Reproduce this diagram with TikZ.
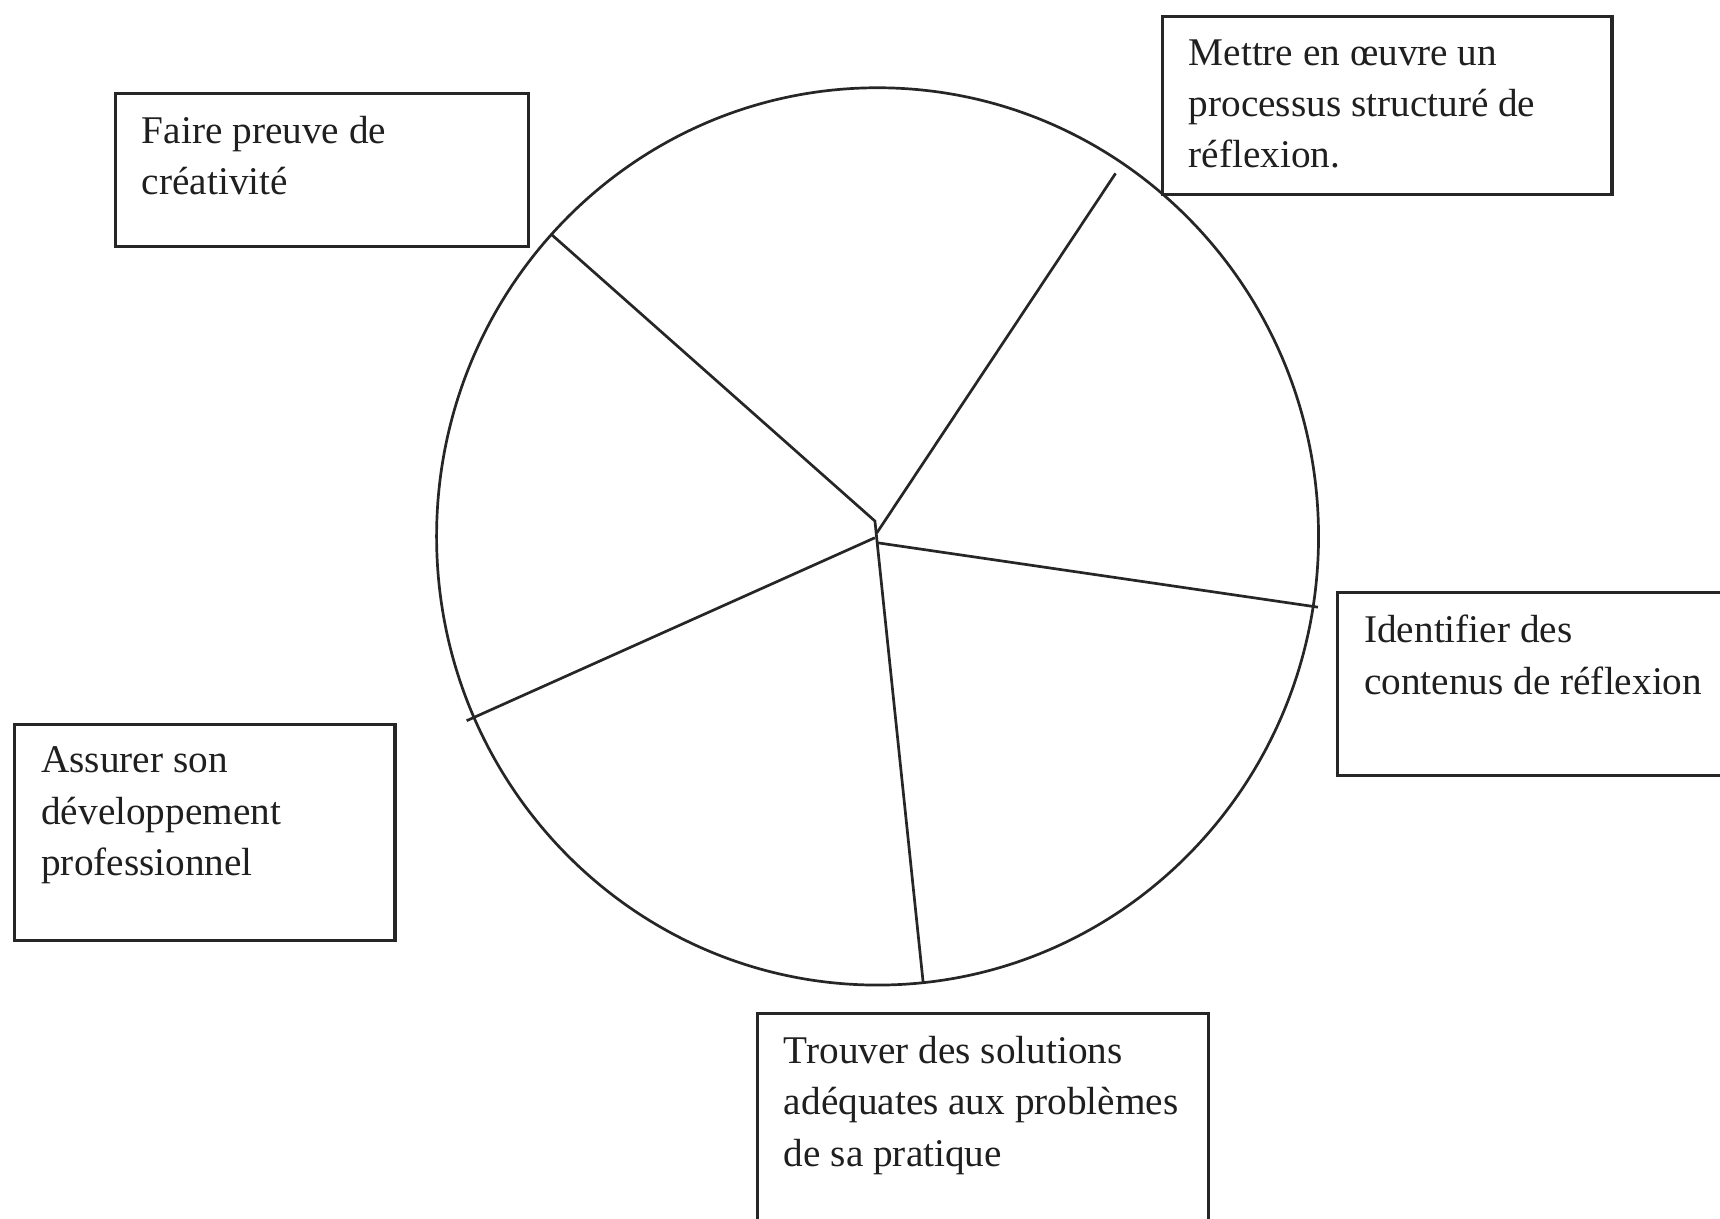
\documentclass[tikz,border=0pt]{standalone}
\usepackage{fontspec}
\setmainfont{Liberation Serif}

\begin{document}
\begin{tikzpicture}[x=1cm, y=-1cm,
    trait/.style={draw=black!85, line width=0.7pt},
    cadre/.style={draw=black!85, line width=0.85pt, anchor=north west, inner sep=0pt},
    texte/.style={anchor=north west, inner sep=0pt, align=left, text=black!88,
        font=\fontsize{10.18}{13.32}\selectfont}]
    % Page frame
    \useasboundingbox (0,0) rectangle (15.68,11.11);
    \clip (0,0) rectangle (15.68,11.11);

    % Pie
    \draw[trait] (8.00,4.89) ellipse [x radius=4.02, y radius=4.09];
    \coordinate (hubA) at (7.976,4.750);
    \coordinate (hubB) at (7.992,4.860);
    \coordinate (hubC) at (7.976,4.902);
    \coordinate (hubD) at (7.992,4.947);
    \coordinate (rimNO) at (5.03,2.14);
    \coordinate (rimNE) at (10.17,1.58);
    \coordinate (rimE) at (12.015,5.535);
    \coordinate (rimS) at (8.416,8.96);
    \coordinate (rimSO) at (4.254,6.57);
    \draw[trait] (rimNO) -- (hubA) -- (rimS);
    \draw[trait] (rimNE) -- (hubB);
    \draw[trait] (rimSO) -- (hubC);
    \draw[trait] (hubD) -- (rimE);

    % Boxes
    \node[cadre, minimum width=3.767cm, minimum height=1.398cm] (creativite) at (1.037,0.836) {};
    \node[texte] (creativiteTxt) at (1.287,1.051) {Faire preuve de\\créativité};

    \node[cadre, minimum width=4.10cm, minimum height=1.623cm] (processus) at (10.58,0.137) {};
    \node[texte] (processusTxt) at (10.83,0.352) {Mettre en œuvre un\\processus structuré de\\réflexion.};

    \node[cadre, minimum width=3.70cm, minimum height=1.672cm] (contenus) at (12.18,5.385) {};
    \node[texte] (contenusTxt) at (12.43,5.600) {Identifier des\\contenus de réflexion};

    \node[cadre, minimum width=3.466cm, minimum height=1.972cm] (developpement) at (0.12,6.588) {};
    \node[texte] (developpementTxt) at (0.37,6.803) {Assurer son\\développement\\professionnel};

    \node[cadre, minimum width=4.11cm, minimum height=2.20cm] (solutions) at (6.89,9.225) {};
    \node[texte] (solutionsTxt) at (7.14,9.440) {Trouver des solutions\\adéquates aux problèmes\\de sa pratique};
\end{tikzpicture}
\end{document}
